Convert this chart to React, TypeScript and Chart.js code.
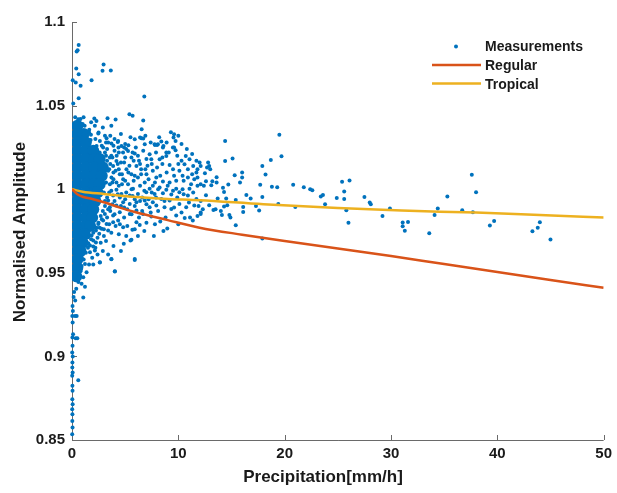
import React, { useEffect, useRef } from 'react';
import { Chart, registerables } from 'chart.js';

Chart.register(...registerables);

// ---------- data ----------
const X_TICKS = [0, 10, 20, 30, 40, 50];
const Y_TICKS = [0.85, 0.9, 0.95, 1, 1.05, 1.1];

const LEGEND_LABELS = ['Measurements', 'Regular', 'Tropical'];
const X_TITLE = 'Precipitation[mm/h]';
const Y_TITLE = 'Normalised Amplitude';

const regularX = [0, 0.5, 1, 2, 3, 4.5, 6, 9, 12, 16, 20, 25, 30, 35, 40, 45, 50];
const regularY = [1, 0.997, 0.9955, 0.994, 0.9922, 0.989, 0.9862, 0.9815, 0.977, 0.9728, 0.969, 0.9645, 0.96, 0.9552, 0.9505, 0.9457, 0.941];

const tropicalX = [0, 1, 3, 6, 9, 12, 18, 25, 31, 38, 44, 50];
const tropicalY = [1, 0.9985, 0.9972, 0.9953, 0.9942, 0.9934, 0.991, 0.9888, 0.9872, 0.986, 0.9845, 0.9831];

// dense core of the measurement cloud (overlapping markers near 0 mm/h)
const denseCore: [number, number][] = [
  [0.5, 1.038],
  [0.5, 1.033], [1.1, 1.033],
  [0.5, 1.028], [1.3, 1.028],
  [0.5, 1.023], [1.3, 1.023], [2.0, 1.023],
  [0.5, 1.018], [1.3, 1.018], [2.1, 1.018], [2.6, 1.018],
  [0.5, 1.013], [1.3, 1.013], [2.1, 1.013], [2.9, 1.013],
  [0.5, 1.008], [1.3, 1.008], [2.1, 1.008], [2.8, 1.008],
  [0.5, 1.003], [1.3, 1.003], [2.1, 1.003], [2.6, 1.003],
  [0.5, 0.998], [1.3, 0.998], [2.1, 0.998], [2.4, 0.998],
  [0.5, 0.993], [1.3, 0.993], [2.1, 0.993], [2.2, 0.993],
  [0.5, 0.988], [1.3, 0.988], [2.0, 0.988],
  [0.5, 0.983], [1.3, 0.983], [1.9, 0.983],
  [0.5, 0.978], [1.3, 0.978], [1.7, 0.978],
  [0.5, 0.973], [1.2, 0.973],
  [0.5, 0.968], [1.0, 0.968],
  [0.5, 0.963], [0.8, 0.963],
  [0.5, 0.958],
  [0.5, 0.953],
  [0.4, 0.948],
];

// individual measurements
const measurementsFar: [number, number][] = [
  [25.4, 1.0044], [26.1, 1.0052], [25.6, 0.9986], [25.6, 0.9942], [25.8, 0.9874], [26.0, 0.9799],
  [27.5, 0.9954], [28.0, 0.992], [28.1, 0.991], [29.2, 0.984], [29.9, 0.9885], [31.1, 0.9801],
  [31.1, 0.9779], [31.6, 0.9804], [31.3, 0.9751], [33.6, 0.9737], [34.1, 0.9846], [34.4, 0.9885],
  [35.3, 0.9956], [36.7, 0.9874], [37.6, 1.0086], [38.0, 0.9982], [37.7, 0.9862], [39.3, 0.9783],
  [39.7, 0.981], [43.3, 0.9749], [43.8, 0.9769], [44.0, 0.9803], [45.0, 0.9699],
];

const measurementsMid: [number, number][] = [
  [19.5, 1.0325], [14.4, 1.0289], [19.7, 1.0197], [18.7, 1.0175], [15.1, 1.0184], [14.4, 1.0169],
  [17.9, 1.0139], [18.2, 1.0088], [16.0, 1.01], [16.0, 1.007], [15.8, 1.004], [15.3, 1.0084],
  [17.7, 1.0026], [18.8, 1.0014], [19.3, 1.0012], [20.8, 1.0026], [21.8, 1.0012], [22.4, 1.0],
  [22.6, 0.9994], [23.4, 0.9956], [23.6, 0.9966], [24.9, 0.9948], [23.8, 0.991], [21.0, 0.9894],
  [19.4, 0.9912], [17.9, 0.9954], [17.6, 0.9873], [17.3, 0.99], [16.8, 0.9944], [16.4, 0.9966],
  [16.1, 0.9894], [16.1, 0.9864], [15.4, 0.9936], [15.4, 0.9785], [17.9, 0.9705], [14.9, 0.9831],
  [14.8, 0.9845], [14.6, 0.9904], [14.3, 0.9896], [14.5, 0.9944], [14.3, 0.9984], [14.7, 1.0028],
  [14.2, 1.0008], [14.1, 0.9845], [14.0, 0.987], [13.5, 0.988], [13.3, 0.9876], [12.9, 0.9904],
  [13.7, 0.9944], [13.6, 1.004], [13.6, 1.0072], [13.2, 1.0048], [13.1, 1.0024], [12.6, 1.0048],
  [12.6, 0.9964], [12.8, 1.016], [12.9, 1.0139], [13.0, 1.012], [12.7, 1.013], [12.0, 1.016],
  [11.8, 1.012], [11.8, 1.007], [11.8, 1.002], [12.1, 0.993], [12.3, 0.988], [12.1, 0.9861],
  [11.8, 0.984], [12.4, 1.002], [12.5, 1.0096],
];

const measurementsUpper: [number, number][] = [
  [0.63, 1.0863], [0.53, 1.0831], [0.44, 1.0823], [0.4, 1.0722], [0.63, 1.0688], [0.07, 1.0652],
  [0.35, 1.0638], [0.81, 1.0618], [1.84, 1.0652], [2.97, 1.0746], [2.87, 1.0708], [3.65, 1.071],
  [0.63, 1.0544], [0.12, 1.0512], [6.8, 1.0554], [1.09, 1.043], [2.1, 1.0423], [2.3, 1.0408],
  [3.34, 1.0424], [4.1, 1.0417], [5.4, 1.0448], [5.7, 1.044], [6.7, 1.0411], [6.55, 1.0359],
  [0.59, 1.0419], [2.15, 1.0379], [2.9, 1.0369], [2.5, 1.0339], [3.1, 1.0319], [5.9, 1.0299],
  [6.7, 1.0303], [7.8, 1.0265], [8.0, 1.0265], [8.4, 1.0285], [8.6, 1.0259], [9.6, 1.0329],
  [10.0, 1.0319], [9.55, 1.0309], [9.6, 1.0249], [4.3, 1.0283], [4.65, 1.0259], [5.3, 1.0263],
  [3.4, 1.0279], [6.4, 1.0309],
  [1.19, 1.0379], [1.62, 1.0355], [1.06, 1.0329], [1.78, 1.0325], [2.47, 1.0333], [1.75, 1.0295],
  [2.62, 1.0289], [3.25, 1.0305], [3.71, 1.0274], [4.34, 1.0289], [4.37, 1.0249], [2.93, 1.0249],
  [2.31, 1.0259], [4.9, 1.0249], [4.8, 1.0219], [5.27, 1.0229], [5.9, 1.0213], [5.59, 1.0189],
  [6.53, 1.0305], [6.84, 1.0269], [7.77, 1.0269], [8.08, 1.0269], [8.55, 1.0249], [8.87, 1.0219],
  [9.74, 1.0289], [9.49, 1.0249], [9.74, 1.0233], [7.3, 1.0209], [7.46, 1.0179], [8.24, 1.0179],
  [8.87, 1.0199], [9.18, 1.0145], [10.7, 1.0199], [11.05, 1.0179], [10.58, 1.0149], [11.4, 1.0139],
  [12.1, 1.0139], [11.7, 1.01], [10.1, 1.011], [10.4, 1.008], [10.9, 1.007], [11.5, 1.006],
  [12.1, 1.003], [9.8, 1.005], [9.18, 1.004], [8.55, 1.0046], [7.93, 1.007], [7.6, 1.011],
  [7.0, 1.009], [6.5, 1.012], [6.06, 1.0139], [6.2, 1.007], [6.84, 1.004], [5.59, 1.009],
  [5.12, 1.012], [4.81, 1.006], [5.27, 1.003], [4.49, 1.009], [4.18, 1.004], [3.87, 1.0139],
  [4.18, 1.0169], [3.56, 1.0189], [3.4, 1.011], [3.71, 1.007], [3.56, 1.003], [7.6, 1.002],
  [8.24, 1.001],
];

const measurementsLower: [number, number][] = [
  [4.03, 0.951], [3.71, 0.9583], [5.9, 0.9583], [4.87, 0.9673], [5.59, 0.9697], [2.0, 0.955],
  [2.62, 0.9563], [1.22, 0.9553], [1.37, 0.9504], [1.06, 0.9474], [1.69, 0.9663], [1.69, 0.9623],
  [2.15, 0.9633], [2.0, 0.9693], [2.56, 0.9733], [2.25, 0.9753], [2.78, 0.9763], [3.4, 0.9753],
  [3.25, 0.9792], [3.87, 0.9802], [4.81, 0.9773], [5.68, 0.9757], [6.06, 0.9802], [6.37, 0.9786],
  [7.46, 0.9837], [8.3, 0.9807], [8.96, 0.9765], [9.8, 0.9843], [10.6, 0.9828], [11.36, 0.9813],
  [12.1, 0.9852], [6.68, 0.9852], [6.06, 0.9873], [5.43, 0.9852], [4.49, 0.9862], [3.87, 0.9843],
  [4.34, 0.9813], [7.3, 0.9892], [7.93, 0.9902], [8.7, 0.9892], [9.34, 0.9882], [10.1, 0.9912],
  [10.74, 0.9892], [11.5, 0.9902], [9.18, 0.9932], [8.4, 0.9942], [7.6, 0.9922], [6.84, 0.9932],
  [6.06, 0.9922], [5.43, 0.9912], [4.81, 0.9922], [4.18, 0.9902], [3.56, 0.9892], [3.4, 0.9932],
  [3.87, 0.9962], [4.65, 0.9972], [5.43, 0.9962], [6.2, 0.9972], [6.99, 0.9982], [7.77, 0.9972],
  [8.55, 0.9976], [9.34, 0.9968], [10.1, 0.9982], [10.9, 0.9962], [11.7, 0.9942], [11.05, 1.0002],
  [9.8, 1.0002], [8.87, 0.9996], [7.3, 1.0002], [5.74, 1.0002], [4.18, 0.9996], [3.09, 0.9852],
  [2.93, 0.9813], [2.47, 0.9792], [1.84, 0.9723], [1.53, 0.9713], [1.37, 0.9673], [1.06, 0.9633],
  [0.91, 0.9593], [0.75, 0.9544], [0.59, 0.9494], [0.44, 0.9464],
  [1.53, 0.9677], [2.0, 0.9657], [2.25, 0.9681], [2.62, 0.9562], [3.7, 0.9581], [4.03, 0.9508],
  [5.5, 0.9693], [5.9, 0.9577], [1.22, 0.9416], [1.06, 0.9352], [0.44, 0.9242], [0.28, 0.9242],
  [0.5, 0.9109], [0.35, 0.9109], [0.59, 0.8858],
];

const measurementsAxis: [number, number][] = [
  [0.05, 0.9302], [0.08, 0.9272], [0.03, 0.9242], [0.06, 0.9203], [0.1, 0.9133], [0.04, 0.9113],
  [0.05, 0.9063], [0.02, 0.9023], [0.07, 0.8999], [0.04, 0.8963], [0.03, 0.8933], [0.06, 0.8904],
  [0.02, 0.8884], [0.04, 0.8824], [0.05, 0.8794], [0.03, 0.8744], [0.06, 0.8714], [0.02, 0.8684],
  [0.04, 0.8654], [0.03, 0.8614], [0.05, 0.8575], [0.02, 0.8535],
  [0.2, 0.9385], [0.4, 0.9405], [0.15, 0.9355], [0.3, 0.9335], [0.6, 0.9445], [0.9, 0.9435],
  [0.35, 0.9455],
];

const measurementsEdge: [number, number][] = [
  [3.6, 1.015], [3.9, 1.01], [3.8, 1.004], [3.5, 0.998], [3.3, 0.995], [3.1, 0.99], [2.9, 0.987],
  [2.7, 0.984], [2.5, 0.98], [2.3, 0.977], [2.0, 0.974], [1.8, 0.97], [1.5, 0.965], [1.3, 0.962],
  [1.1, 0.958], [0.9, 0.954], [0.8, 0.951], [3.2, 1.02], [2.8, 1.026], [2.2, 1.03], [1.6, 1.034],
  [1.0, 1.039], [0.8, 1.042], [0.3, 1.043], [4.2, 1.02], [4.0, 1.023], [4.6, 1.016], [4.4, 1.012],
  [4.7, 1.003], [4.5, 0.995], [4.0, 0.993], [3.6, 0.987], [3.3, 0.983], [4.1, 0.978], [3.0, 0.972],
  [2.7, 0.968], [2.4, 0.961], [1.9, 0.959], [1.6, 0.955], [5.0, 1.019], [5.1, 0.998], [4.9, 0.989],
  [5.8, 1.005], [5.9, 0.994], [6.6, 0.995], [6.3, 1.017], [7.1, 1.014], [7.2, 0.994], [3.3, 1.024],
  [3.7, 1.02], [2.6, 1.022],
];

const measurementsFill: [number, number][] = [
  [3.2, 1.028], [3.6, 1.032], [4.0, 1.03], [4.6, 1.033], [5.0, 1.027], [5.5, 1.031], [6.0, 1.025],
  [6.9, 1.032], [7.4, 1.028], [8.2, 1.031], [8.9, 1.028], [9.3, 1.034], [10.3, 1.027], [10.8, 1.024],
  [11.3, 1.021], [3.1, 1.022], [3.9, 1.026], [4.4, 1.022], [5.1, 1.024], [5.7, 1.022], [6.2, 1.02],
  [6.7, 1.023], [7.0, 1.018], [7.9, 1.022], [8.5, 1.019], [9.1, 1.022], [9.9, 1.02], [10.3, 1.017],
  [11.7, 1.017], [3.3, 1.017], [3.8, 1.019], [4.3, 1.015], [4.9, 1.016], [5.4, 1.014], [5.8, 1.017],
  [6.4, 1.015], [6.9, 1.012], [7.5, 1.015], [8.0, 1.013], [8.5, 1.015], [9.5, 1.012], [10.0, 1.015],
  [10.9, 1.012], [11.3, 1.009], [3.0, 1.009], [3.5, 1.012], [4.1, 1.011], [4.7, 1.009], [5.3, 1.01],
  [5.9, 1.008], [6.5, 1.009], [7.2, 1.006], [7.8, 1.004], [8.3, 1.008], [8.9, 1.01], [9.6, 1.008],
  [10.5, 1.005], [11.2, 1.003], [3.2, 1.004], [3.9, 1.006], [4.4, 1.002], [5.0, 1.005], [5.6, 1.0],
  [6.4, 1.002], [6.8, 0.999], [7.5, 0.998], [8.1, 1.0], [9.0, 1.002], [9.5, 0.999], [10.4, 1.0],
  [11.4, 0.998], [3.0, 0.998], [3.7, 0.999], [4.3, 0.997], [5.0, 0.994], [5.7, 0.996], [6.4, 0.993],
  [7.0, 0.991], [7.9, 0.995], [8.7, 0.993], [9.9, 0.995], [10.5, 0.997], [11.0, 0.992], [3.1, 0.993],
  [3.8, 0.991], [4.6, 0.99], [5.2, 0.988], [5.9, 0.99], [6.6, 0.987], [7.4, 0.986], [8.1, 0.987],
  [9.6, 0.989], [10.3, 0.986], [11.9, 0.99], [3.4, 0.988], [4.0, 0.985], [4.9, 0.983], [5.6, 0.985],
  [6.3, 0.983], [7.0, 0.98], [7.8, 0.979], [8.8, 0.983], [10.0, 0.979], [11.1, 0.983], [2.8, 0.982],
  [3.5, 0.979], [4.5, 0.979], [5.2, 0.978], [5.9, 0.976], [6.8, 0.975], [8.6, 0.975], [2.6, 0.977],
  [3.0, 0.976], [3.7, 0.974], [4.4, 0.973], [5.1, 0.972], [6.2, 0.972], [7.7, 0.972], [2.4, 0.971],
  [3.2, 0.969], [3.9, 0.966], [4.6, 0.963], [2.9, 0.963], [3.4, 0.961], [2.2, 0.965], [1.8, 1.04],
  [3.7, 1.038],
];

// ---------- styles ----------
const BLUE = '#0072BD';
const RED = '#D95319';
const YELLOW = '#EDB120';
const AXIS_COLOR = '#6a6a6a';
const TEXT_COLOR = '#1a1a1a';
const FONT_FAMILY = "'Liberation Sans', Arial, Helvetica, sans-serif";

const toPts = (arr: [number, number][]) => arr.map(([x, y]) => ({ x, y }));
const zipPts = (xs: number[], ys: number[]) => xs.map((x, i) => ({ x, y: ys[i] }));

const decorPlugin = {
  id: 'matlabDecor',
  beforeDatasetsDraw(chart: any) {
    const { ctx, chartArea, scales } = chart;
    const { left, right, top, bottom } = chartArea;
    ctx.save();
    ctx.strokeStyle = AXIS_COLOR;
    ctx.lineWidth = 1;
    ctx.beginPath();
    ctx.moveTo(left + 0.5, top);
    ctx.lineTo(left + 0.5, bottom + 0.5);
    ctx.lineTo(right, bottom + 0.5);
    ctx.stroke();
    ctx.beginPath();
    X_TICKS.forEach((v) => {
      const px = Math.round(scales.x.getPixelForValue(v)) + 0.5;
      ctx.moveTo(px, bottom);
      ctx.lineTo(px, bottom - 5);
    });
    Y_TICKS.forEach((v) => {
      const py = Math.round(scales.y.getPixelForValue(v)) + 0.5;
      ctx.moveTo(left, py);
      ctx.lineTo(left + 5, py);
    });
    ctx.stroke();
    ctx.restore();
  },
  afterDraw(chart: any) {
    const { ctx, chartArea } = chart;
    ctx.save();
    ctx.fillStyle = TEXT_COLOR;
    // axis titles
    ctx.font = `bold 17px ${FONT_FAMILY}`;
    ctx.textAlign = 'center';
    ctx.textBaseline = 'alphabetic';
    ctx.fillText(X_TITLE, chartArea.left + 251, 482);
    ctx.save();
    ctx.translate(25, 232);
    ctx.rotate(-Math.PI / 2);
    ctx.fillText(Y_TITLE, 0, 0);
    ctx.restore();

    // legend
    const lx = chartArea.left + 360;
    ctx.font = `bold 14px ${FONT_FAMILY}`;
    ctx.textAlign = 'left';
    ctx.textBaseline = 'middle';
    ctx.fillStyle = BLUE;
    ctx.beginPath();
    ctx.arc(lx + 24, 46.5, 2, 0, Math.PI * 2);
    ctx.fill();
    ctx.lineWidth = 2.5;
    ctx.strokeStyle = RED;
    ctx.beginPath();
    ctx.moveTo(lx, 65);
    ctx.lineTo(lx + 49, 65);
    ctx.stroke();
    ctx.strokeStyle = YELLOW;
    ctx.beginPath();
    ctx.moveTo(lx, 83.5);
    ctx.lineTo(lx + 49, 83.5);
    ctx.stroke();
    ctx.fillStyle = TEXT_COLOR;
    ctx.fillText(LEGEND_LABELS[0], lx + 53, 47);
    ctx.fillText(LEGEND_LABELS[1], lx + 53, 66);
    ctx.fillText(LEGEND_LABELS[2], lx + 53, 85);
    ctx.restore();
  },
};

export default function App() {
  const canvasRef = useRef<HTMLCanvasElement>(null);

  useEffect(() => {
    const canvas = canvasRef.current;
    if (!canvas) return;
    const tickFont = { family: FONT_FAMILY, size: 15, weight: 'bold' as const };
    const allMeasurements = [
      ...measurementsFar,
      ...measurementsMid,
      ...measurementsUpper,
      ...measurementsLower,
      ...measurementsAxis,
      ...measurementsEdge,
      ...measurementsFill,
    ];
    const chart = new Chart(canvas, {
      type: 'scatter',
      data: {
        datasets: [
          {
            label: LEGEND_LABELS[1],
            data: zipPts(regularX, regularY),
            showLine: true,
            borderColor: RED,
            backgroundColor: RED,
            borderWidth: 2.5,
            pointRadius: 0,
            cubicInterpolationMode: 'monotone',
            order: 0,
          },
          {
            label: LEGEND_LABELS[2],
            data: zipPts(tropicalX, tropicalY),
            showLine: true,
            borderColor: YELLOW,
            backgroundColor: YELLOW,
            borderWidth: 2.5,
            pointRadius: 0,
            cubicInterpolationMode: 'monotone',
            order: 1,
          },
          {
            label: LEGEND_LABELS[0],
            data: toPts(allMeasurements),
            backgroundColor: BLUE,
            borderWidth: 0,
            pointRadius: 2,
            clip: false,
            order: 2,
          },
          {
            label: 'core',
            data: toPts(denseCore),
            backgroundColor: BLUE,
            borderWidth: 0,
            pointRadius: 6,
            order: 3,
          },
        ] as any,
      },
      options: {
        animation: false,
        responsive: false,
        maintainAspectRatio: false,
        events: [],
        layout: { padding: { left: 0, right: 11, top: 22, bottom: 0 } },
        plugins: { legend: { display: false }, tooltip: { enabled: false } },
        scales: {
          x: {
            type: 'linear',
            min: 0,
            max: 50,
            afterBuildTicks: (axis: any) => {
              axis.ticks = X_TICKS.map((v) => ({ value: v }));
            },
            afterFit: (scale: any) => {
              scale.height = 53;
            },
            grid: { display: false, drawTicks: false },
            border: { display: false },
            ticks: {
              padding: 5,
              color: TEXT_COLOR,
              font: tickFont,
              maxRotation: 0,
              callback: (v: any) => String(v),
            },
          },
          y: {
            type: 'linear',
            min: 0.85,
            max: 1.1,
            afterBuildTicks: (axis: any) => {
              axis.ticks = Y_TICKS.map((v) => ({ value: v }));
            },
            afterFit: (scale: any) => {
              scale.width = 72;
            },
            grid: { display: false, drawTicks: false },
            border: { display: false },
            ticks: {
              padding: 7,
              color: TEXT_COLOR,
              font: tickFont,
              callback: (v: any) => String(Math.round(Number(v) * 100) / 100),
            },
          },
        },
      },
      plugins: [decorPlugin],
    });
    return () => chart.destroy();
  }, []);

  return (
    <div style={{ position: 'absolute', left: 0, top: 0, width: 617, height: 493, background: '#fff' }}>
      <canvas ref={canvasRef} width={617} height={493} style={{ display: 'block' }} />
    </div>
  );
}
